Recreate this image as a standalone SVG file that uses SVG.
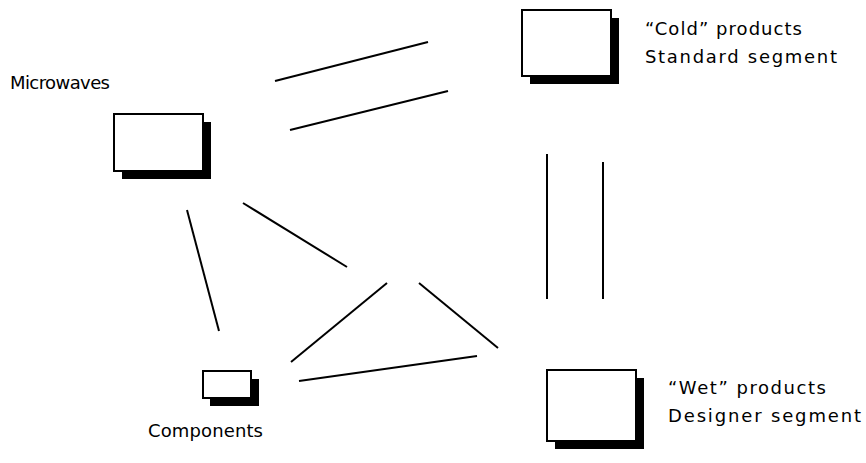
<svg xmlns="http://www.w3.org/2000/svg" width="866" height="463" viewBox="0 0 866 463">
<style>
.shadow{fill:#000}
.box{fill:#fff;stroke:#000;stroke-width:2}
.lbl{font-family:"DejaVu Sans","Liberation Sans",sans-serif;font-size:18px;fill:#000}
.conn line{stroke:#000;stroke-width:2;stroke-linecap:butt}
</style>
<rect width="866" height="463" fill="#fff"/>
<g id="cold">
<rect class="shadow" x="530" y="18" width="89" height="66"/>
<rect class="box" x="522" y="10" width="89" height="66"/>
<text class="lbl" x="645" y="35" textLength="157" lengthAdjust="spacing">“Cold” products</text>
<text class="lbl" x="645" y="63" textLength="192" lengthAdjust="spacing">Standard segment</text>
</g>
<g id="microwaves">
<rect class="shadow" x="122" y="122" width="89" height="57"/>
<rect class="box" x="114" y="114" width="89" height="57"/>
<text class="lbl" x="10" y="89" textLength="100" lengthAdjust="spacing">Microwaves</text>
</g>
<g id="components">
<rect class="shadow" x="210" y="379" width="49" height="27"/>
<rect class="box" x="203" y="371" width="48" height="27"/>
<text class="lbl" x="148" y="437" textLength="115" lengthAdjust="spacing">Components</text>
</g>
<g id="wet">
<rect class="shadow" x="555" y="378" width="89" height="71"/>
<rect class="box" x="547" y="370" width="89" height="71"/>
<text class="lbl" x="668" y="394" textLength="158" lengthAdjust="spacing">“Wet” products</text>
<text class="lbl" x="668" y="422" textLength="193" lengthAdjust="spacing">Designer segment</text>
</g>
<g id="connectors" class="conn">
<line x1="275" y1="81" x2="428" y2="42"/>
<line x1="290" y1="130" x2="448" y2="91"/>
<line x1="547" y1="154" x2="547" y2="299"/>
<line x1="603" y1="162" x2="603" y2="299"/>
<line x1="243" y1="203" x2="347" y2="267"/>
<line x1="187" y1="210" x2="219" y2="331"/>
<line x1="387" y1="283" x2="291" y2="362"/>
<line x1="419" y1="283" x2="498" y2="348"/>
<line x1="299" y1="381" x2="477" y2="356"/>
</g>
</svg>
